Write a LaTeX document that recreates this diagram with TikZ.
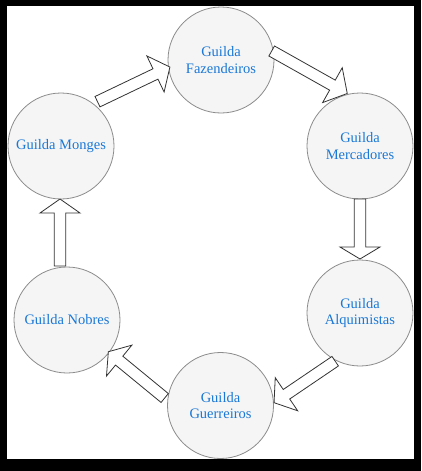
\documentclass[tikz,border=0pt]{standalone}
\usepackage{fontspec}
\setmainfont{Liberation Serif}
\usetikzlibrary{calc}
\definecolor{txtblue}{HTML}{1A78D6}
\definecolor{circfill}{HTML}{F5F5F5}
\definecolor{circline}{HTML}{8C8C8C}
\definecolor{arrline}{HTML}{333333}
\tikzset{
  guild/.style={circle, draw=circline, fill=circfill, line width=0.8pt,
    minimum size=106pt, inner sep=0pt, text=txtblue, align=center,
    font=\fontsize{14.5pt}{16.5pt}\selectfont},
  barrow/.style={draw=arrline, fill=white, line width=0.8pt, line join=miter}
}
\newcommand\blockarr[3]{%
  \path let \p1=(#1), \p2=(#2), \n1={atan2(\y2-\y1,\x2-\x1)}, \n2={veclen(\x2-\x1,\y2-\y1)} in
    \pgfextra{\xdef\bangle{\n1}\xdef\blen{\n2}};
  \begin{scope}[shift={(#1)}, rotate=\bangle]
    \draw[barrow] (0,-5.75) -- ({\blen-#3},-5.75) -- ({\blen-#3},-20) -- (\blen,0)
      -- ({\blen-#3},20) -- ({\blen-#3},5.75) -- (0,5.75) -- cycle;
  \end{scope}}
\begin{document}
\begin{tikzpicture}[x=1pt,y=-1pt]
\useasboundingbox (0,0) rectangle (421,471);
\fill[black] (0,0) rectangle (421,471);
\fill[white] (7,6) rectangle (414,459);

\node[guild] (faz) at (221,60) {Guilda\\Fazendeiros};
\node[guild] (merc) at (360,146) {Guilda\\Mercadores};
\node[guild] (alq) at (360,313) {Guilda\\Alquimistas};
\node[guild] (guer) at (220.5,405.5) {Guilda\\Guerreiros};
\node[guild] (nob) at (67,320) {Guilda Nobres};
\node[guild] (mon) at (61,146) {Guilda Monges};

\coordinate (a1t) at (97.5,101.7);  \coordinate (a1h) at (170,67);
\coordinate (a2t) at (271.7,51);    \coordinate (a2h) at (347.3,93.5);
\coordinate (a3t) at (360,199);     \coordinate (a3h) at (360,259);
\coordinate (a4t) at (335.2,361.2); \coordinate (a4h) at (274,402.7);
\coordinate (a5t) at (164.7,398);   \coordinate (a5h) at (108.3,351.7);
\coordinate (a6t) at (60,266);      \coordinate (a6h) at (60,199);

\blockarr{a1t}{a1h}{16}
\blockarr{a2t}{a2h}{17}
\blockarr{a3t}{a3h}{12}
\blockarr{a4t}{a4h}{15}
\blockarr{a5t}{a5h}{14}
\blockarr{a6t}{a6h}{14}
\end{tikzpicture}
\end{document}
